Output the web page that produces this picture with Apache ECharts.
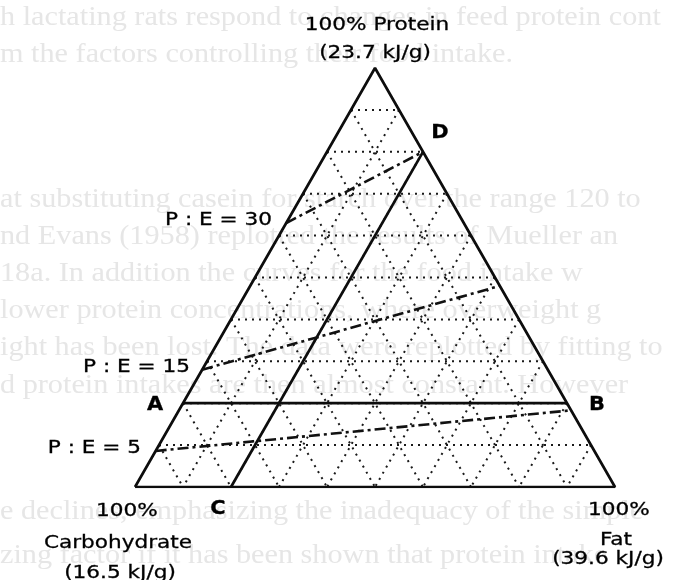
<!DOCTYPE html>
<html>
<head>
<meta charset="utf-8">
<script src="https://cdn.jsdelivr.net/npm/echarts@6/dist/echarts.min.js"></script>
<style>
  html, body { margin: 0; padding: 0; background: #ffffff; }
  #chart { width: 674px; height: 580px; }
</style>
</head>
<body>
<div id="chart"></div>
<script>
// Ternary diet composition diagram: protein (top), carbohydrate (bottom left), fat (bottom right).
// Every point is given as [protein, carbohydrate, fat] fractions of the diet by weight.

// Grid levels drawn as dotted lines for each component
const gridLevels = [0.1, 0.2, 0.3, 0.4, 0.5, 0.6, 0.7, 0.8, 0.9];

// Outline of the diagram
const outline = [[0, 1, 0], [0, 0, 1], [1, 0, 0], [0, 1, 0]];

// Solid boundary lines A-B (20% protein) and C-D (20% fat)
const lineAB = [[0.2, 0.8, 0], [0.2, 0, 0.8]];
const lineCD = [[0, 0.8, 0.2], [0.8, 0, 0.2]];

// Protein : energy contours (g protein per MJ)
const peLevels = ['P : E = 30', 'P : E = 15', 'P : E = 5'];
const pe30 = [[0.63, 0.37, 0], [0.80, 0, 0.20]];
const pe15 = [[0.28, 0.72, 0], [0.48, 0, 0.52]];
const pe5 = [[0.086, 0.914, 0], [0.183, 0, 0.817]];

// Corner captions
const topCaption = ['100% Protein', '(23.7 kJ/g)'];
const leftCaption = ['100%', 'Carbohydrate', '(16.5 kJ/g)'];
const rightCaption = ['100%', 'Fat', '(39.6 kJ/g)'];
const pointLabels = ['A', 'B', 'C', 'D'];

// Page text showing through from the printed sheet
const pageLines = [
  'h lactating rats respond to changes in feed protein cont',
  'm the factors controlling their food intake.',
  'at substituting casein for starch over the range 120 to',
  'nd Evans (1958) replotted the results of Mueller an',
  '18a. In addition the curves for the food intake w',
  'lower protein concentrations, where overweight g',
  'ight has been lost. The data were replotted by fitting to',
  'd protein intakes are then almost constant. However',
  'e declines, emphasizing the inadequacy of the simple',
  'zing factor if it has been shown that protein intake'
];
const pageLineY = [18, 55, 200, 237, 274, 311, 348, 386, 512, 556];

// Barycentric -> plane coordinates for the value axes
function toXY(p) {
  const P = p[0], F = p[2];
  return [F + P / 2, P];
}

function segment(points, style, z) {
  return {
    type: 'line',
    data: points.map(toXY),
    symbol: 'none',
    silent: true,
    animation: false,
    z: z,
    lineStyle: style
  };
}

const dotted = { color: '#1a1a1a', width: 2, type: [2, 5] };
const solid = { color: '#0d0d0d', width: 2.7, type: 'solid' };
const dashDot = { color: '#111', width: 2.6, type: [11, 4, 3, 4] };

const series = [];
gridLevels.forEach(function (v) {
  // constant protein
  series.push(segment([[v, 1 - v, 0], [v, 0, 1 - v]], dotted, 1));
  // constant carbohydrate
  series.push(segment([[1 - v, v, 0], [0, v, 1 - v]], dotted, 1));
  // constant fat
  series.push(segment([[1 - v, 0, v], [0, 1 - v, v]], dotted, 1));
});
series.push(segment(outline, solid, 3));
series.push(segment(lineAB, solid, 3));
series.push(segment(lineCD, solid, 3));
series.push(segment(pe30, dashDot, 4));
series.push(segment(pe15, dashDot, 4));
series.push(segment(pe5, dashDot, 4));

const FONT = '"DejaVu Sans", "Liberation Sans", sans-serif';

function label(text, x, y, opts) {
  opts = opts || {};
  const size = opts.size || 18;
  const weight = opts.bold ? 'bold ' : '';
  const align = opts.align || 'center';
  return {
    type: 'text',
    x: x,
    y: y,
    scaleX: opts.scaleX || 1.2,
    silent: true,
    z: 10,
    style: {
      text: text,
      font: weight + size + 'px ' + FONT,
      fill: '#000',
      stroke: '#000',
      lineWidth: 0.3,
      align: align,
      textAlign: align,
      verticalAlign: 'middle',
      textVerticalAlign: 'middle'
    }
  };
}

const graphics = [];
pageLines.forEach(function (t, i) {
  graphics.push({
    type: 'text',
    x: 0,
    y: pageLineY[i],
    scaleX: 1.08,
    silent: true,
    z: -10,
    style: {
      text: t,
      font: '28px "Liberation Serif", "DejaVu Serif", serif',
      fill: '#e6e6e6',
      align: 'left',
      textAlign: 'left',
      verticalAlign: 'middle',
      textVerticalAlign: 'middle'
    }
  });
});

graphics.push(label(topCaption[0], 377, 25));
graphics.push(label(topCaption[1], 375, 53));
graphics.push(label(leftCaption[0], 127, 511));
graphics.push(label(leftCaption[1], 118, 543));
graphics.push(label(leftCaption[2], 120, 573));
graphics.push(label(rightCaption[0], 619, 510));
graphics.push(label(rightCaption[1], 616, 540));
graphics.push(label(rightCaption[2], 608, 559));
graphics.push(label(peLevels[0], 272, 220, { align: 'right' }));
graphics.push(label(peLevels[1], 190, 367, { align: 'right' }));
graphics.push(label(peLevels[2], 141, 448, { align: 'right' }));
graphics.push(label(pointLabels[0], 155, 405, { bold: true, size: 19, scaleX: 1.1 }));
graphics.push(label(pointLabels[1], 597, 405, { bold: true, size: 19, scaleX: 1.1 }));
graphics.push(label(pointLabels[2], 218, 509, { bold: true, size: 19, scaleX: 1.1 }));
graphics.push(label(pointLabels[3], 440, 133, { bold: true, size: 19, scaleX: 1.1 }));

const chart = echarts.init(document.getElementById('chart'), null, { renderer: 'canvas' });
chart.setOption({
  backgroundColor: '#ffffff',
  animation: false,
  grid: { left: 135, top: 68, width: 480, height: 419 },
  xAxis: { type: 'value', min: 0, max: 1, show: false },
  yAxis: { type: 'value', min: 0, max: 1, show: false },
  series: series,
  graphic: graphics
});
</script>
</body>
</html>
